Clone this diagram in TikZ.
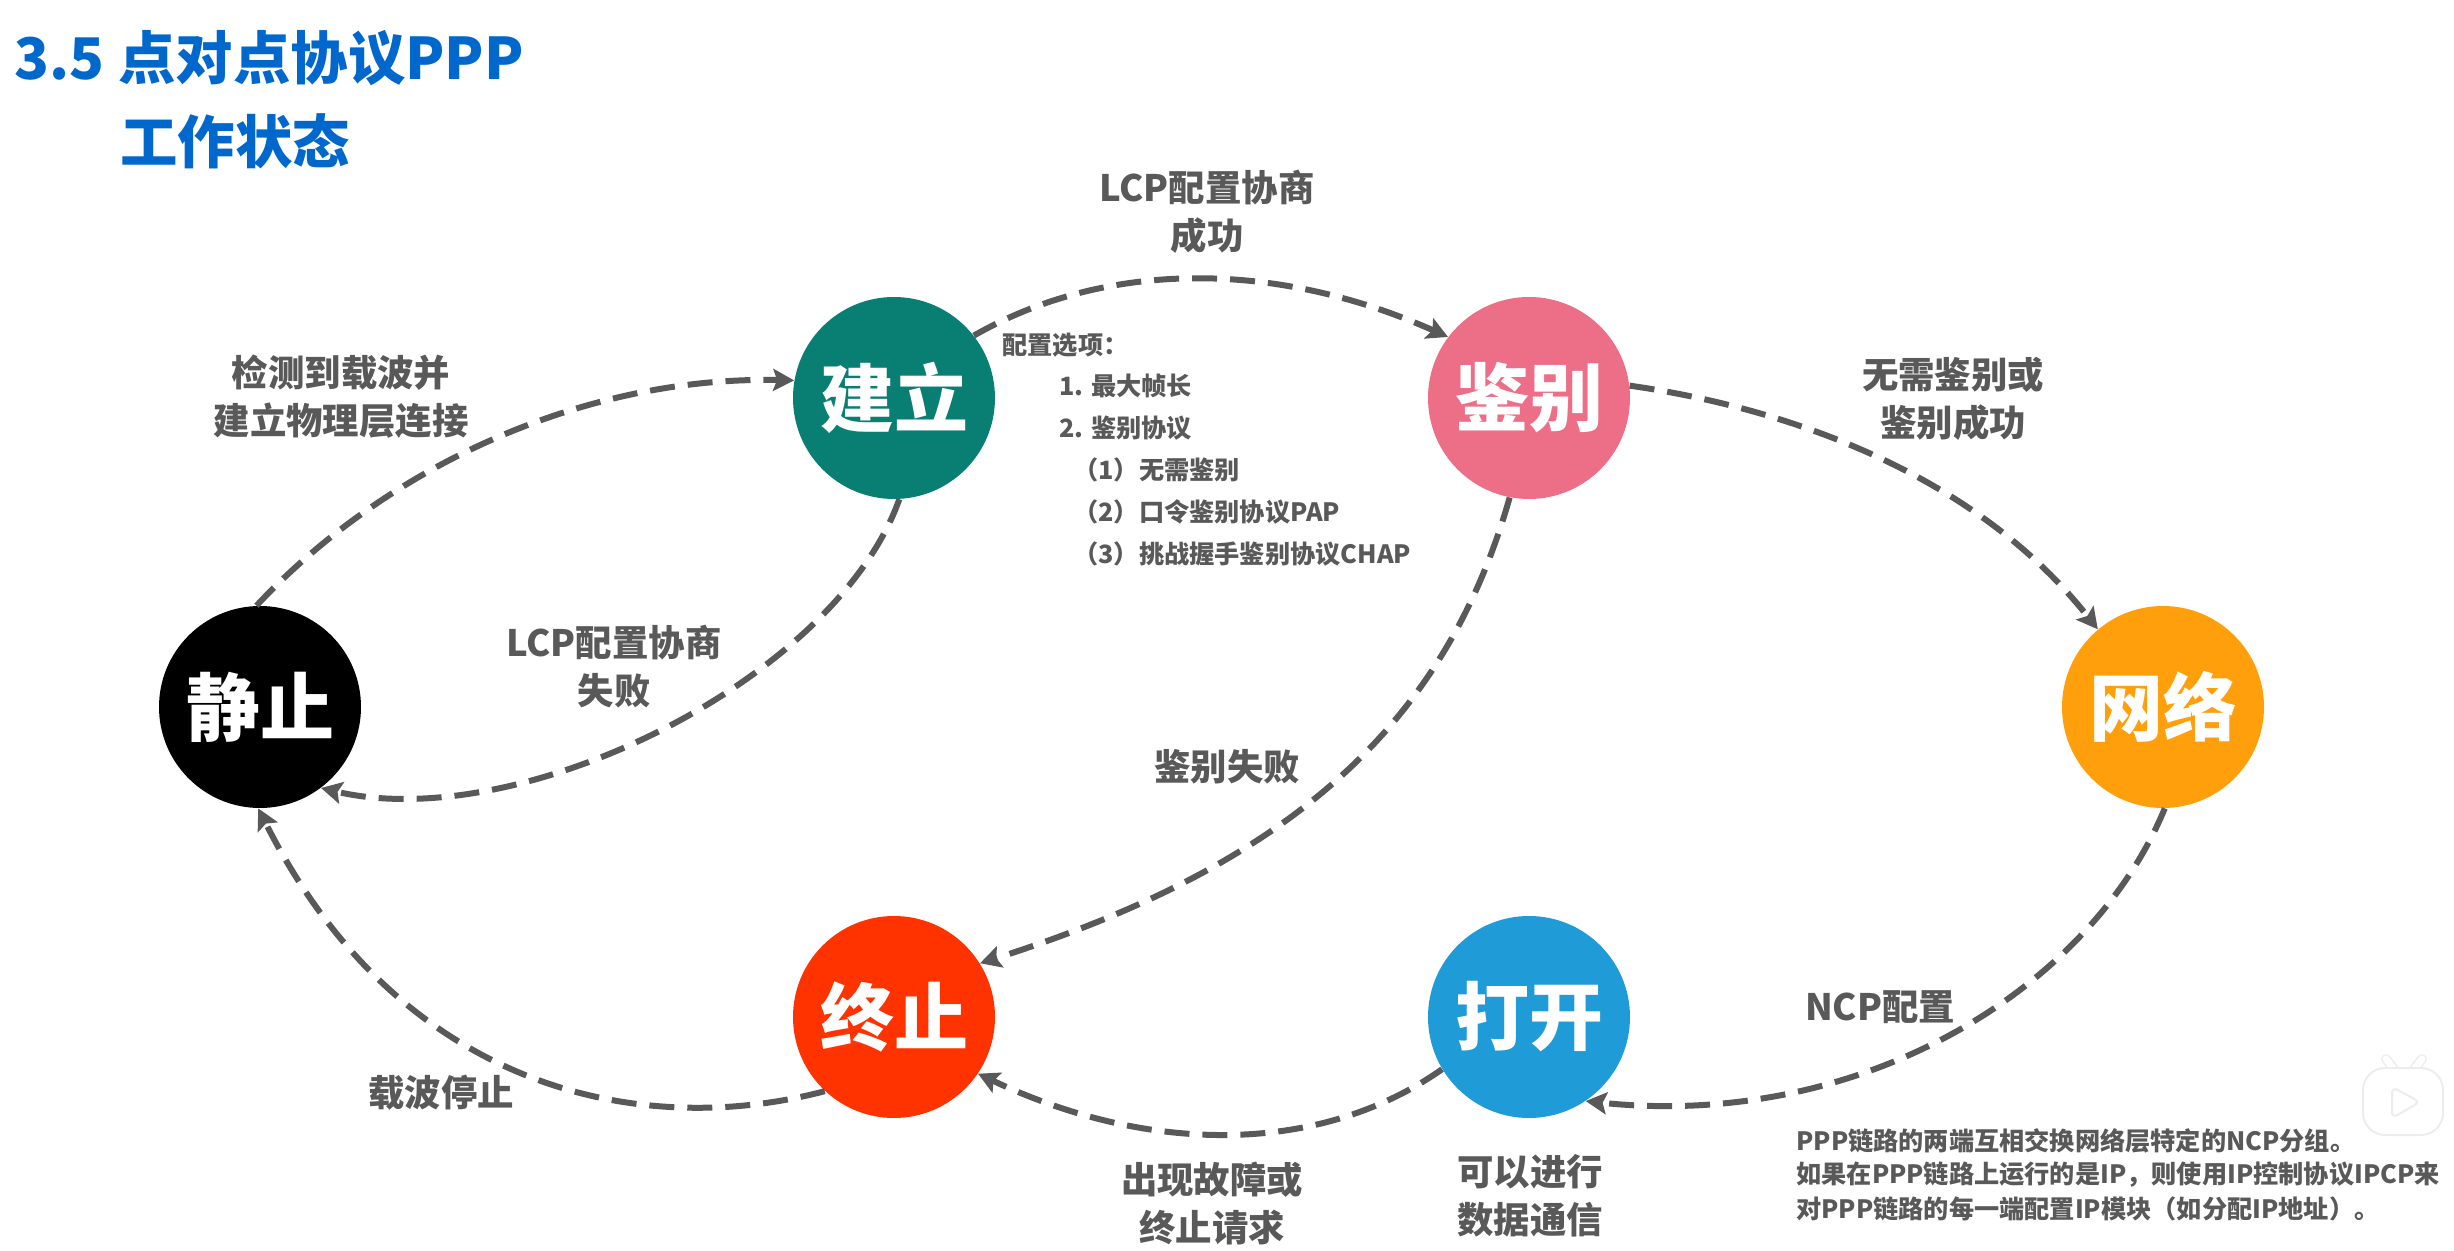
\documentclass[tikz,border=0pt]{standalone}
\usepackage{fontspec}
\setmainfont{Noto Sans CJK SC}
\usetikzlibrary{arrows.meta}
\definecolor{titleblue}{HTML}{0068CC}
\definecolor{labelgray}{HTML}{595959}
\definecolor{jianliteal}{HTML}{097F73}
\definecolor{jianbiepink}{HTML}{EC6E87}
\definecolor{wangluoorange}{HTML}{FF9F0B}
\definecolor{zhongzhired}{HTML}{FF3300}
\definecolor{dakaiblue}{HTML}{1F9BD7}
\tikzset{
  statenode/.style={circle, minimum size=101pt, inner sep=0pt, text=white, font=\bfseries\fontsize{37}{40}\selectfont},
  flowline/.style={draw=labelgray, line width=3pt, dash pattern=on 12.5pt off 6.5pt, -{Stealth[length=10.5pt,width=11pt,inset=2pt]}},
  flowlabel/.style={text=labelgray, align=center, font=\bfseries\fontsize{18.2}{24}\selectfont},
  optionlabel/.style={text=labelgray, anchor=west, inner sep=0pt, font=\bfseries\fontsize{12.6}{15}\selectfont},
  titlelabel/.style={text=titleblue, anchor=west, inner sep=0pt, font=\bfseries\fontsize{28.7}{34}\selectfont},
  iconpart/.style={draw=black!7, fill=white, line width=1pt, line join=round}
}
\begin{document}
\begin{tikzpicture}[x=0.5pt, y=-0.5pt]
  \useasboundingbox (0,0) rectangle (2454,1251);

  % 标题
  \node[titlelabel] (title1) at (14,58) {3.5\hspace{7pt}点对点协议PPP};
  \node[titlelabel] (title2) at (120,141) {工作状态};

  % 六个状态
  \node[statenode, fill=black] (jingzhi) at (260,707) {静止};
  \node[statenode, fill=jianliteal] (jianli) at (894,398) {建立};
  \node[statenode, fill=jianbiepink] (jianbie) at (1529,398) {鉴别};
  \node[statenode, fill=wangluoorange] (wangluo) at (2163,707) {网络};
  \node[statenode, fill=zhongzhired] (zhongzhi) at (894,1017) {终止};
  \node[statenode, fill=dakaiblue] (dakai) at (1529,1017) {打开};

  % 状态之间的转换
  \draw[flowline] (jingzhi.92) .. controls (395,458) and (595,376) .. (jianli.170);
  \draw[flowline] (jianli.273) .. controls (835,680) and (520,835) .. (jingzhi.307);
  \draw[flowline] (jianli.38) .. controls (1110,258) and (1280,262) .. (jianbie.143);
  \draw[flowline] (jianbie.7) .. controls (1800,410) and (1980,480) .. (wangluo.130);
  \draw[flowline] (jianbie.259) .. controls (1445,725) and (1290,865) .. (zhongzhi.32);
  \draw[flowline] (wangluo.271) .. controls (2090,990) and (1860,1130) .. (dakai.304);
  \draw[flowline] (dakai.211) .. controls (1320,1155) and (1150,1155) .. (zhongzhi.326);
  \draw[flowline] (zhongzhi.227) .. controls (640,1140) and (400,1090) .. (jingzhi.269);

  % 转换的说明
  \node[flowlabel] (l1) at (341,397) {检测到载波并\\建立物理层连接};
  \node[flowlabel] (l2) at (614,667) {LCP配置协商\\失败};
  \node[flowlabel] (l3) at (1207,212) {LCP配置协商\\成功};
  \node[flowlabel] (l4) at (1953,399) {无需鉴别或\\鉴别成功};
  \node[flowlabel] (l5) at (1227,767) {鉴别失败};
  \node[flowlabel] (l6) at (1880,1007) {NCP配置};
  \node[flowlabel] (l7) at (441,1093) {载波停止};
  \node[flowlabel] (l8) at (1212,1204) {出现故障或\\终止请求};
  \node[flowlabel] (l9) at (1530,1196) {可以进行\\数据通信};

  % 配置选项
  \node[optionlabel] (opt0) at (1002,345) {配置选项：};
  \node[optionlabel] (opt1) at (1059,386) {1. 最大帧长};
  \node[optionlabel] (opt2) at (1059,428) {2. 鉴别协议};
  \node[optionlabel] (opt3) at (1073,470) {（1）无需鉴别};
  \node[optionlabel] (opt4) at (1073,512) {（2）口令鉴别协议PAP};
  \node[optionlabel] (opt5) at (1073,554) {（3）挑战握手鉴别协议CHAP};

  % 右下角说明
  \node[optionlabel] (note1) at (1796,1141) {PPP链路的两端互相交换网络层特定的NCP分组。};
  \node[optionlabel] (note2) at (1796,1175) {如果在PPP链路上运行的是IP，则使用IP控制协议IPCP来};
  \node[optionlabel] (note3) at (1796,1209) {对PPP链路的每一端配置IP模块（如分配IP地址）。};

  % 水印
  \draw[black!7, line width=5pt, line cap=round] (2386,1059) -- (2396,1072) (2422,1059) -- (2412,1072);
  \draw[white, line width=3.5pt, line cap=round] (2386,1059) -- (2396,1072) (2422,1059) -- (2412,1072);
  \draw[iconpart, rounded corners=11pt] (2363,1068) rectangle (2443,1135);
  \draw[iconpart, rounded corners=3pt] (2392,1087) -- (2392,1118) -- (2420,1102) -- cycle;
\end{tikzpicture}
\end{document}
